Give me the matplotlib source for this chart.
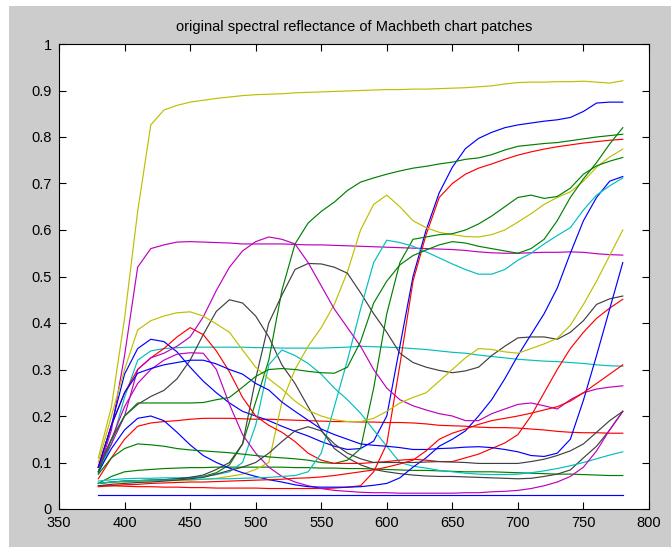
import numpy as np
import matplotlib
matplotlib.use("Agg")
from matplotlib import pyplot as plt
from matplotlib.patches import Rectangle
from cycler import cycler

# wavelengths in nm, sampled every 10 nm
wavelengths = np.arange(380, 781, 10)

# reflectance of each patch
# rows: 380-480 | 490-580 | 590-680 | 690-780
black = [0.031, 0.031, 0.031, 0.031, 0.031, 0.031, 0.031, 0.031, 0.031, 0.031, 0.031,
         0.031, 0.031, 0.031, 0.031, 0.031, 0.031, 0.031, 0.031, 0.031, 0.031,
         0.031, 0.031, 0.031, 0.031, 0.031, 0.031, 0.031, 0.031, 0.031, 0.031,
         0.031, 0.031, 0.031, 0.031, 0.031, 0.031, 0.031, 0.031, 0.031, 0.031]
neutral35 = [0.055, 0.070, 0.080, 0.083, 0.085, 0.087, 0.088, 0.089, 0.089, 0.090, 0.090,
             0.090, 0.090, 0.090, 0.090, 0.089, 0.089, 0.088, 0.088, 0.087, 0.087,
             0.086, 0.085, 0.084, 0.083, 0.083, 0.082, 0.081, 0.080, 0.080, 0.080,
             0.079, 0.078, 0.077, 0.076, 0.075, 0.075, 0.074, 0.073, 0.072, 0.072]
neutral5 = [0.065, 0.110, 0.150, 0.178, 0.185, 0.188, 0.190, 0.193, 0.195, 0.195, 0.195,
            0.194, 0.193, 0.193, 0.192, 0.191, 0.190, 0.189, 0.188, 0.188, 0.187,
            0.187, 0.186, 0.186, 0.185, 0.183, 0.180, 0.179, 0.178, 0.176, 0.175,
            0.175, 0.174, 0.172, 0.170, 0.167, 0.165, 0.164, 0.164, 0.163, 0.163]
neutral65 = [0.075, 0.140, 0.240, 0.320, 0.340, 0.345, 0.347, 0.348, 0.348, 0.348, 0.348,
             0.348, 0.347, 0.347, 0.346, 0.346, 0.346, 0.346, 0.347, 0.348, 0.350,
             0.349, 0.348, 0.347, 0.345, 0.343, 0.340, 0.337, 0.335, 0.331, 0.328,
             0.325, 0.322, 0.320, 0.318, 0.317, 0.315, 0.313, 0.310, 0.308, 0.307]
neutral8 = [0.080, 0.170, 0.330, 0.520, 0.560, 0.568, 0.574, 0.575, 0.574, 0.573, 0.572,
            0.570, 0.570, 0.570, 0.570, 0.569, 0.568, 0.568, 0.567, 0.566, 0.565,
            0.564, 0.563, 0.562, 0.561, 0.560, 0.559, 0.558, 0.556, 0.553, 0.551,
            0.550, 0.550, 0.551, 0.552, 0.552, 0.553, 0.552, 0.549, 0.547, 0.546]
white = [0.110, 0.220, 0.410, 0.640, 0.826, 0.858, 0.868, 0.875, 0.879, 0.883, 0.886,
         0.889, 0.891, 0.892, 0.893, 0.895, 0.896, 0.897, 0.898, 0.899, 0.900,
         0.901, 0.902, 0.902, 0.903, 0.903, 0.904, 0.905, 0.906, 0.908, 0.910,
         0.914, 0.917, 0.918, 0.918, 0.919, 0.919, 0.920, 0.918, 0.916, 0.921]
cyan = [0.090, 0.150, 0.200, 0.225, 0.242, 0.255, 0.280, 0.320, 0.375, 0.425, 0.450,
        0.443, 0.415, 0.370, 0.310, 0.270, 0.220, 0.170, 0.130, 0.110, 0.095,
        0.085, 0.080, 0.076, 0.073, 0.071, 0.070, 0.070, 0.069, 0.068, 0.067,
        0.066, 0.065, 0.066, 0.070, 0.075, 0.084, 0.110, 0.135, 0.170, 0.210]
magenta = [0.090, 0.180, 0.290, 0.345, 0.365, 0.360, 0.338, 0.305, 0.275, 0.250, 0.228,
           0.210, 0.200, 0.190, 0.178, 0.167, 0.157, 0.145, 0.135, 0.128, 0.130,
           0.146, 0.200, 0.350, 0.500, 0.600, 0.680, 0.735, 0.775, 0.797, 0.810,
           0.820, 0.826, 0.830, 0.834, 0.837, 0.842, 0.855, 0.873, 0.875, 0.875]
yellow = [0.055, 0.058, 0.060, 0.061, 0.062, 0.063, 0.065, 0.067, 0.070, 0.078, 0.095,
          0.140, 0.230, 0.320, 0.470, 0.570, 0.615, 0.640, 0.660, 0.685, 0.703,
          0.712, 0.720, 0.727, 0.733, 0.737, 0.742, 0.746, 0.752, 0.755, 0.762,
          0.772, 0.780, 0.783, 0.786, 0.788, 0.792, 0.796, 0.800, 0.803, 0.806]
red = [0.050, 0.050, 0.049, 0.048, 0.048, 0.047, 0.047, 0.046, 0.046, 0.045, 0.045,
       0.045, 0.045, 0.044, 0.044, 0.044, 0.044, 0.044, 0.045, 0.047, 0.050,
       0.080, 0.140, 0.310, 0.490, 0.590, 0.670, 0.700, 0.720, 0.733, 0.742,
       0.752, 0.761, 0.768, 0.774, 0.779, 0.783, 0.787, 0.790, 0.793, 0.795]
green = [0.060, 0.063, 0.065, 0.066, 0.066, 0.067, 0.067, 0.068, 0.070, 0.074, 0.080,
         0.100, 0.180, 0.310, 0.342, 0.330, 0.313, 0.290, 0.260, 0.235, 0.206,
         0.170, 0.135, 0.100, 0.092, 0.088, 0.083, 0.080, 0.077, 0.075, 0.074,
         0.074, 0.075, 0.078, 0.082, 0.087, 0.093, 0.100, 0.108, 0.116, 0.123]
blue = [0.090, 0.150, 0.220, 0.270, 0.300, 0.320, 0.333, 0.336, 0.335, 0.300, 0.225,
        0.160, 0.120, 0.090, 0.070, 0.058, 0.050, 0.044, 0.040, 0.038, 0.036,
        0.035, 0.035, 0.034, 0.034, 0.034, 0.034, 0.034, 0.035, 0.035, 0.037,
        0.038, 0.040, 0.044, 0.050, 0.058, 0.070, 0.090, 0.125, 0.170, 0.210]
orange_yellow = [0.055, 0.057, 0.058, 0.059, 0.060, 0.061, 0.061, 0.062, 0.064, 0.066, 0.070,
                 0.075, 0.085, 0.100, 0.230, 0.300, 0.350, 0.390, 0.440, 0.510, 0.600,
                 0.655, 0.675, 0.650, 0.620, 0.605, 0.595, 0.590, 0.586, 0.585, 0.590,
                 0.600, 0.617, 0.635, 0.655, 0.670, 0.682, 0.705, 0.735, 0.757, 0.774]
yellow_green = [0.055, 0.058, 0.060, 0.061, 0.062, 0.063, 0.065, 0.068, 0.073, 0.085, 0.100,
                0.140, 0.280, 0.400, 0.460, 0.515, 0.528, 0.527, 0.520, 0.507, 0.465,
                0.420, 0.380, 0.335, 0.315, 0.305, 0.298, 0.293, 0.297, 0.305, 0.330,
                0.350, 0.368, 0.370, 0.370, 0.365, 0.380, 0.405, 0.440, 0.452, 0.458]
purple = [0.080, 0.130, 0.170, 0.195, 0.200, 0.190, 0.165, 0.138, 0.115, 0.100, 0.088,
          0.078, 0.070, 0.063, 0.058, 0.052, 0.048, 0.047, 0.047, 0.047, 0.048,
          0.051, 0.055, 0.067, 0.090, 0.110, 0.135, 0.150, 0.168, 0.200, 0.235,
          0.280, 0.330, 0.375, 0.420, 0.475, 0.550, 0.620, 0.670, 0.705, 0.715]
moderate_red = [0.075, 0.110, 0.130, 0.140, 0.138, 0.135, 0.130, 0.127, 0.125, 0.123, 0.121,
                0.118, 0.115, 0.112, 0.110, 0.108, 0.105, 0.100, 0.098, 0.105, 0.130,
                0.260, 0.420, 0.530, 0.580, 0.585, 0.590, 0.592, 0.600, 0.613, 0.630,
                0.650, 0.670, 0.675, 0.668, 0.672, 0.690, 0.720, 0.738, 0.748, 0.756]
purplish_blue = [0.090, 0.180, 0.250, 0.300, 0.325, 0.345, 0.370, 0.390, 0.375, 0.340, 0.295,
                 0.240, 0.200, 0.180, 0.165, 0.145, 0.120, 0.105, 0.098, 0.098, 0.098,
                 0.100, 0.102, 0.105, 0.107, 0.105, 0.102, 0.102, 0.110, 0.118, 0.130,
                 0.142, 0.160, 0.200, 0.250, 0.300, 0.345, 0.380, 0.410, 0.432, 0.451]
orange = [0.055, 0.058, 0.060, 0.061, 0.062, 0.062, 0.063, 0.063, 0.064, 0.065, 0.065,
          0.066, 0.067, 0.068, 0.070, 0.072, 0.080, 0.120, 0.220, 0.320, 0.430,
          0.530, 0.578, 0.573, 0.565, 0.553, 0.540, 0.527, 0.515, 0.505, 0.505,
          0.515, 0.535, 0.550, 0.570, 0.588, 0.605, 0.643, 0.675, 0.695, 0.712]
bluish_green = [0.090, 0.140, 0.200, 0.300, 0.325, 0.335, 0.350, 0.370, 0.413, 0.470, 0.520,
                0.555, 0.575, 0.585, 0.580, 0.570, 0.530, 0.480, 0.430, 0.390, 0.350,
                0.300, 0.260, 0.235, 0.222, 0.213, 0.205, 0.200, 0.190, 0.190, 0.205,
                0.215, 0.225, 0.228, 0.222, 0.215, 0.235, 0.250, 0.258, 0.262, 0.265]
blue_flower = [0.100, 0.200, 0.300, 0.385, 0.405, 0.415, 0.422, 0.424, 0.415, 0.398, 0.380,
               0.342, 0.305, 0.280, 0.258, 0.232, 0.212, 0.200, 0.192, 0.188, 0.188,
               0.195, 0.210, 0.228, 0.240, 0.250, 0.275, 0.300, 0.325, 0.345, 0.343,
               0.338, 0.335, 0.345, 0.355, 0.367, 0.395, 0.440, 0.490, 0.545, 0.600]
foliage = [0.050, 0.053, 0.055, 0.057, 0.058, 0.060, 0.062, 0.065, 0.068, 0.075, 0.083,
           0.090, 0.100, 0.120, 0.145, 0.168, 0.177, 0.168, 0.140, 0.120, 0.108,
           0.100, 0.100, 0.100, 0.100, 0.101, 0.102, 0.101, 0.100, 0.098, 0.098,
           0.098, 0.098, 0.102, 0.107, 0.115, 0.125, 0.140, 0.165, 0.190, 0.210]
blue_sky = [0.090, 0.180, 0.250, 0.292, 0.302, 0.310, 0.315, 0.320, 0.320, 0.312, 0.300,
            0.290, 0.270, 0.256, 0.230, 0.210, 0.191, 0.172, 0.160, 0.150, 0.140,
            0.137, 0.135, 0.132, 0.128, 0.128, 0.130, 0.131, 0.133, 0.134, 0.132,
            0.128, 0.123, 0.115, 0.113, 0.120, 0.150, 0.234, 0.330, 0.430, 0.530]
light_skin = [0.080, 0.150, 0.200, 0.228, 0.228, 0.228, 0.228, 0.228, 0.229, 0.235, 0.240,
              0.262, 0.285, 0.300, 0.302, 0.300, 0.296, 0.293, 0.292, 0.305, 0.360,
              0.443, 0.490, 0.525, 0.545, 0.557, 0.568, 0.575, 0.572, 0.565, 0.560,
              0.555, 0.550, 0.560, 0.580, 0.620, 0.670, 0.710, 0.745, 0.785, 0.820]
dark_skin = [0.048, 0.050, 0.052, 0.053, 0.055, 0.056, 0.057, 0.058, 0.058, 0.059, 0.060,
             0.061, 0.062, 0.063, 0.064, 0.066, 0.067, 0.069, 0.072, 0.076, 0.080,
             0.084, 0.090, 0.097, 0.105, 0.125, 0.150, 0.163, 0.172, 0.182, 0.190,
             0.195, 0.200, 0.206, 0.213, 0.220, 0.232, 0.250, 0.270, 0.290, 0.310]

# plotting order (chart read backwards, black patch first)
patches = [black, neutral35, neutral5, neutral65, neutral8, white,
           cyan, magenta, yellow, red, green, blue,
           orange_yellow, yellow_green, purple, moderate_red, purplish_blue, orange,
           bluish_green, blue_flower, foliage, blue_sky, light_skin, dark_skin]

# old matlab default line colours: b g r c m y k
matlab_colors = [(0, 0, 1), (0, 0.5, 0), (1, 0, 0), (0, 0.75, 0.75),
                 (0.75, 0, 0.75), (0.75, 0.75, 0), (0.25, 0.25, 0.25)]

plt.rcParams['font.family'] = ['Liberation Sans', 'DejaVu Sans']

fig = plt.figure(figsize=(6.71, 5.47), dpi=100, facecolor='#cccccc')
# thin white border of the screenshot, top and left
fig.patches.append(Rectangle((0, 0), 9 / 671, 1, transform=fig.transFigure,
                             facecolor='white', edgecolor='none', zorder=0))
fig.patches.append(Rectangle((0, 1 - 6 / 547), 1, 6 / 547, transform=fig.transFigure,
                             facecolor='white', edgecolor='none', zorder=0))

ax = fig.add_axes([59 / 671, 1 - 509 / 547, 590 / 671, 465 / 547])
ax.set_prop_cycle(cycler(color=matlab_colors))

for refl in patches:
    ax.plot(wavelengths, refl, linewidth=0.85)

ax.set_xlim(350, 800)
ax.set_ylim(0, 1)
ax.set_xticks(np.arange(350, 801, 50))
ax.set_yticks(np.arange(0, 1.01, 0.1))
ax.set_yticklabels(['0', '0.1', '0.2', '0.3', '0.4', '0.5', '0.6', '0.7', '0.8', '0.9', '1'])
ax.tick_params(direction='in', top=True, right=True, length=5, width=0.8,
               labelsize=10.5, pad=5)
for s in ax.spines.values():
    s.set_linewidth(0.8)
ax.set_title('original spectral reflectance of Machbeth chart patches', fontsize=10.5, pad=9)

fig.savefig('out.png', dpi=100, facecolor=fig.get_facecolor())
